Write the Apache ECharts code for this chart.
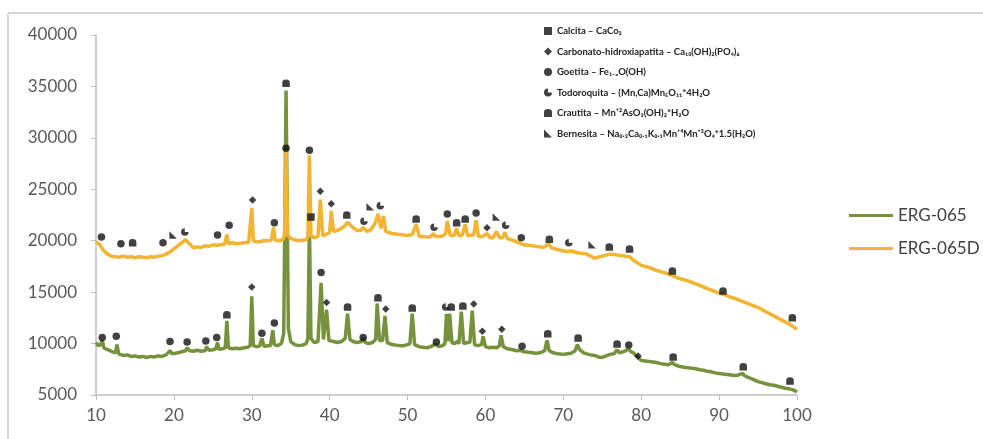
<!DOCTYPE html>
<html>
<head>
<meta charset="utf-8">
<title>ERG-065</title>
<script src="https://cdn.jsdelivr.net/npm/echarts@6/dist/echarts.min.js"></script>
<style>
  html, body { margin: 0; padding: 0; background: #fff; }
  #chart { width: 983px; height: 439px; }
</style>
</head>
<body>
<div id="chart"></div>
<script>
// ticks
const xTicks = [10, 100, 10]
const yTicks = [5000, 40000, 5000]

// difractograma ERG-065 [2theta, cuentas]
const erg065 = [
  [10,10100],[10.3,9800],[10.6,9900],[10.8,10300],[11.0,9600],[11.5,9400],[12,9250],[12.5,9100],[12.7,9900],[12.9,9000],
  [13.5,8850],[14,8900],[14.5,8750],[15,8800],[15.5,8700],[16,8750],[16.5,8650],[17,8750],[17.5,8700],[18,8800],
  [18.5,8750],[19,8900],[19.5,9300],[19.8,9000],[20.5,9100],[21,9200],[21.5,9300],[21.7,9600],[22,9300],[22.5,9250],
  [23,9350],[23.5,9250],[24,9300],[24.2,9700],[24.5,9350],[25,9400],[25.4,9500],[25.6,10100],[25.8,9450],[26.3,9500],
  [26.6,9600],[26.8,12200],[27.0,9600],[27.5,9500],[28,9550],[28.5,9500],[29,9600],[29.5,9650],[29.8,9800],[30.0,14600],
  [30.2,9800],[30.6,9700],[31.0,9750],[31.3,10500],[31.6,9700],[32,9800],[32.4,9800],[32.7,11300],[32.9,9900],[33.3,9800],
  [33.8,10000],[34.1,11000],[34.4,34600],[34.7,11500],[35.0,10200],[35.5,9900],[36,9800],[36.5,9850],[37.0,10000],[37.2,10500],
  [37.4,21600],[37.6,10500],[38.0,10100],[38.5,10200],[38.9,15900],[39.2,10400],[39.4,10400],[39.6,13300],[39.9,10300],[40.5,10200],
  [41,10100],[41.5,10200],[42.0,10500],[42.3,12900],[42.6,10400],[43,10200],[43.5,10100],[44.1,10200],[44.3,10500],[44.6,10100],
  [45,10000],[45.5,10100],[45.9,10400],[46.1,13900],[46.4,10300],[46.8,10300],[47.1,12700],[47.4,10100],[48,9900],[48.5,9850],
  [49,9800],[49.5,9800],[50.0,9900],[50.3,10000],[50.6,12900],[50.9,9900],[51.5,9700],[52,9650],[52.5,9600],[53,9700],
  [53.6,9950],[54,9700],[54.5,9800],[54.8,10000],[55.0,12900],[55.2,10200],[55.4,12900],[55.7,10100],[56,10000],[56.4,10200],
  [56.6,10000],[56.9,13100],[57.2,10000],[57.7,10100],[58.0,10100],[58.3,13200],[58.6,9900],[59,9800],[59.5,9900],[59.7,10700],
  [60,9700],[60.5,9600],[61,9650],[61.5,9600],[61.8,9800],[62.0,10800],[62.3,9700],[62.8,9500],[63.5,9400],[64,9300],
  [64.5,9350],[65,9200],[65.5,9150],[66,9100],[66.5,9050],[67,9100],[67.6,9300],[67.9,10300],[68.2,9300],[68.7,9100],
  [69.3,9000],[70,8950],[70.5,9000],[71,9050],[71.5,9300],[71.8,9900],[72.1,9400],[72.6,9100],[73,9000],[73.5,8900],
  [74,8850],[74.5,8700],[75,8650],[75.5,8800],[76,8950],[76.5,9000],[76.9,9400],[77.2,9100],[77.6,9200],[78.0,9300],
  [78.3,9500],[78.7,9200],[79,9100],[79.5,8700],[80,8350],[80.5,8300],[81,8250],[81.5,8200],[82,8150],[82.5,8050],
  [83,8000],[83.5,7950],[84,8150],[84.3,7950],[84.8,7800],[85.5,7700],[86,7650],[86.5,7600],[87,7550],[87.5,7450],
  [88,7400],[88.5,7300],[89,7250],[89.5,7150],[90,7100],[90.5,7050],[91,7000],[91.5,6950],[92,6900],[92.5,6950],
  [93,7100],[93.3,6850],[93.8,6700],[94.3,6550],[95,6300],[95.5,6200],[96,6100],[96.5,6000],[97,5950],[97.5,5850],
  [98,5750],[98.5,5650],[99,5600],[99.5,5500],[100,5300]
]

// difractograma ERG-065D
const erg065d = [
  [10,19900],[10.5,19600],[11,19000],[11.5,18700],[12,18500],[12.5,18450],[13,18400],[13.5,18500],[14,18400],[14.5,18450],
  [15,18350],[15.5,18450],[16,18400],[16.5,18350],[17,18450],[17.5,18400],[18,18500],[18.5,18550],[19,18700],[19.5,18900],
  [20,19200],[20.5,19500],[21,19800],[21.5,20100],[22,19700],[22.5,19300],[23,19400],[23.5,19350],[24,19500],[24.5,19450],
  [25,19600],[25.5,19550],[26,19600],[26.5,19650],[26.8,20600],[27.0,19700],[27.5,19800],[28,19700],[28.5,19750],[29,19800],
  [29.6,19850],[29.8,20000],[30.0,23200],[30.2,20000],[30.6,19900],[31,19900],[31.5,20000],[32,20000],[32.5,20050],[32.8,21300],
  [33.0,20050],[33.5,20000],[34,20100],[34.2,20500],[34.4,28800],[34.6,20600],[35,20200],[35.5,20100],[36,20000],[36.5,20050],
  [37,20100],[37.2,20400],[37.4,28300],[37.6,20500],[38,20300],[38.5,20400],[38.8,24000],[39.1,20500],[39.5,20600],[40.0,20800],
  [40.2,22900],[40.5,20900],[41,21000],[41.5,21200],[42,21500],[42.3,21800],[42.8,21400],[43.5,21000],[44.0,21000],[44.3,21300],
  [44.8,20900],[45.2,21000],[45.6,21400],[45.9,21800],[46.2,22600],[46.6,21200],[46.9,22400],[47.2,20900],[47.6,20800],[48,20700],
  [48.5,20650],[49,20600],[49.5,20550],[50,20500],[50.6,20600],[51.1,21600],[51.5,20400],[52,20400],[52.5,20350],[53,20400],
  [53.3,20700],[53.6,20400],[54,20400],[54.5,20450],[54.9,20700],[55.1,21900],[55.5,20500],[56.0,20500],[56.3,21200],[56.6,20500],
  [57.0,20500],[57.4,21600],[57.7,20500],[58,20500],[58.5,20600],[58.8,22000],[59.1,20400],[59.6,20400],[60.2,20700],[60.6,20300],
  [61,20300],[61.4,20900],[61.8,20300],[62.2,20300],[62.5,20800],[62.8,20200],[63.3,20100],[64,19900],[64.6,19700],[65,19600],
  [65.5,19550],[66,19500],[66.5,19450],[67,19400],[67.5,19350],[68.1,19700],[68.5,19300],[69,19200],[69.5,19100],[70,19000],
  [70.5,18950],[71,19000],[71.5,18900],[72,18800],[72.5,18750],[73,18700],[73.5,18500],[74,18300],[74.5,18400],[75,18500],
  [75.5,18600],[76,18700],[76.5,18650],[77,18600],[77.5,18550],[78,18500],[78.5,18450],[79,18100],[79.5,17850],[80,17600],
  [80.5,17500],[81,17400],[81.5,17250],[82,17100],[82.5,17000],[83,16900],[83.5,16750],[84,16600],[84.5,16450],[85,16300],
  [85.5,16200],[86,16100],[86.5,15950],[87,15800],[87.5,15650],[88,15500],[88.5,15350],[89,15200],[89.5,15050],[90,14900],
  [90.5,14800],[91,14650],[91.5,14500],[92,14400],[92.5,14250],[93,14100],[93.5,13950],[94,13800],[94.5,13650],[95,13500],
  [95.5,13300],[96,13100],[96.5,12900],[97,12700],[97.5,12500],[98,12300],[98.5,12100],[99,11900],[99.5,11650],[100,11400]
]

// fases identificadas (posicion de cada marca)
const calcita = [[37.6,22300]]
const apatita = [[30.0,15500],[39.6,14000],[47.2,13350],[58.5,13850],[59.6,11200],[62.1,11400],[79.6,8800],
  [30.1,23950],[38.8,24800],[40.2,23600],[60.2,21250]]
const goetita = [[10.8,10600],[12.6,10700],[19.5,10200],[21.7,10150],[24.1,10250],[25.5,10600],[31.3,11000],[32.9,12000],
  [38.9,16900],[44.3,10600],[53.7,10150],[64.7,9750],[78.4,9850],
  [10.7,20350],[13.2,19700],[18.6,19800],[25.6,20550],[27.1,21500],[32.9,21750],[34.4,29000],[37.4,28800],[55.1,22600],
  [58.8,22700],[64.6,20300]]
const todoroquita = [[54.9,13550],[21.4,20850],[44.4,21900],[46.5,23400],[53.4,21300],[62.6,21500],[70.7,19800]]
const crautita = [[26.8,12800],[34.4,35300],[42.3,13550],[46.2,14450],[50.6,13450],[55.6,13550],[57.1,13650],[68.0,10950],
  [71.9,10550],[76.9,9950],[84.1,8700],[93.1,7750],[99.1,6350],
  [14.7,19800],[42.2,22500],[51.1,22100],[56.3,21750],[57.4,22100],[68.2,20150],[75.9,19400],[78.5,19200],[84.0,17050],
  [90.5,15100],[99.4,12500]]
const bernesita = [[19.9,20550],[45.2,23300],[61.4,22300],[73.7,19600]]

const phases = [
  { name: 'Calcita – CaCo₃', symbol: 'rect', data: calcita },
  { name: 'Carbonato-hidroxiapatita – Ca₁₀(OH)₂(PO₄)₆', symbol: 'diamond', data: apatita },
  { name: 'Goetita – Fe₁₋ₓO(OH)', symbol: 'circle', data: goetita },
  { name: 'Todoroquita – (Mn,Ca)Mn₅O₁₁*4H₂O', symbol: 'path://M10,5 A5,5 0 1 1 5,0 L5,5 Z', data: todoroquita },
  { name: 'Crautita – Mn⁺²AsO₃(OH)₂*H₂O', symbol: 'path://M0,10 L0,4 Q0,0 5,0 Q10,0 10,4 L10,10 Z', data: crautita },
  { name: 'Bernesita – Na₀.₃Ca₀.₁K₀.₁Mn⁺⁴Mn⁺³O₄*1.5(H₂O)', symbol: 'path://M0,0 L10,10 L0,10 Z', data: bernesita }
]

const font = 'Lato, "Open Sans", sans-serif'
const axisGray = '#BFBFBF'

const option = {
  animation: false,
  backgroundColor: '#fff',
  grid: { left: 96, right: 186, top: 35, bottom: 44 },
  xAxis: {
    type: 'value',
    min: xTicks[0], max: xTicks[1], interval: xTicks[2],
    axisLine: { lineStyle: { color: axisGray, width: 1.5 } },
    axisTick: { show: true, length: 5, lineStyle: { color: axisGray } },
    splitLine: { show: false },
    axisLabel: { color: '#595959', fontSize: 17, fontFamily: font, margin: 12 }
  },
  yAxis: {
    type: 'value',
    min: yTicks[0], max: yTicks[1], interval: yTicks[2],
    axisLine: { show: true, lineStyle: { color: axisGray, width: 1.5 } },
    axisTick: { show: true, length: 5, lineStyle: { color: axisGray } },
    splitLine: { show: false },
    axisLabel: { color: '#595959', fontSize: 17, fontFamily: font, margin: 19, formatter: v => String(v) }
  },
  legend: [
    // muestras
    {
      data: ['ERG-065', 'ERG-065D'],
      orient: 'vertical',
      left: 844, top: 202,
      icon: 'rect',
      itemWidth: 44, itemHeight: 3, itemGap: 16,
      textStyle: { color: '#404040', fontSize: 17, fontFamily: font }
    },
    // fases
    {
      data: phases.map(p => p.name),
      orient: 'vertical',
      left: 539, top: 21,
      itemWidth: 8, itemHeight: 8, itemGap: 10.5,
      textStyle: { color: '#222', fontSize: 9.5, fontWeight: 'bold', fontFamily: font }
    }
  ],
  series: [
    {
      name: 'ERG-065', type: 'line', data: erg065, symbol: 'none',
      color: '#76923C', lineStyle: { width: 3.5, color: '#76923C' }, z: 2
    },
    {
      name: 'ERG-065D', type: 'line', data: erg065d, symbol: 'none',
      color: '#F2B431', lineStyle: { width: 3.5, color: '#F2B431' }, z: 3
    }
  ].concat(phases.map(p => ({
    name: p.name, type: 'scatter', data: p.data,
    symbol: p.symbol, symbolSize: 7.5,
    itemStyle: { color: '#111' }, z: 5
  }))),
  // marco exterior del grafico
  graphic: [
    { type: 'line', shape: { x1: 8, y1: 13, x2: 983, y2: 13 }, style: { stroke: '#C8C8C8', lineWidth: 1.5 } },
    { type: 'line', shape: { x1: 8, y1: 13, x2: 8, y2: 439 }, style: { stroke: '#C8C8C8', lineWidth: 1.5 } }
  ]
}

const chart = echarts.init(document.getElementById('chart'))
chart.setOption(option)
</script>
</body>
</html>
